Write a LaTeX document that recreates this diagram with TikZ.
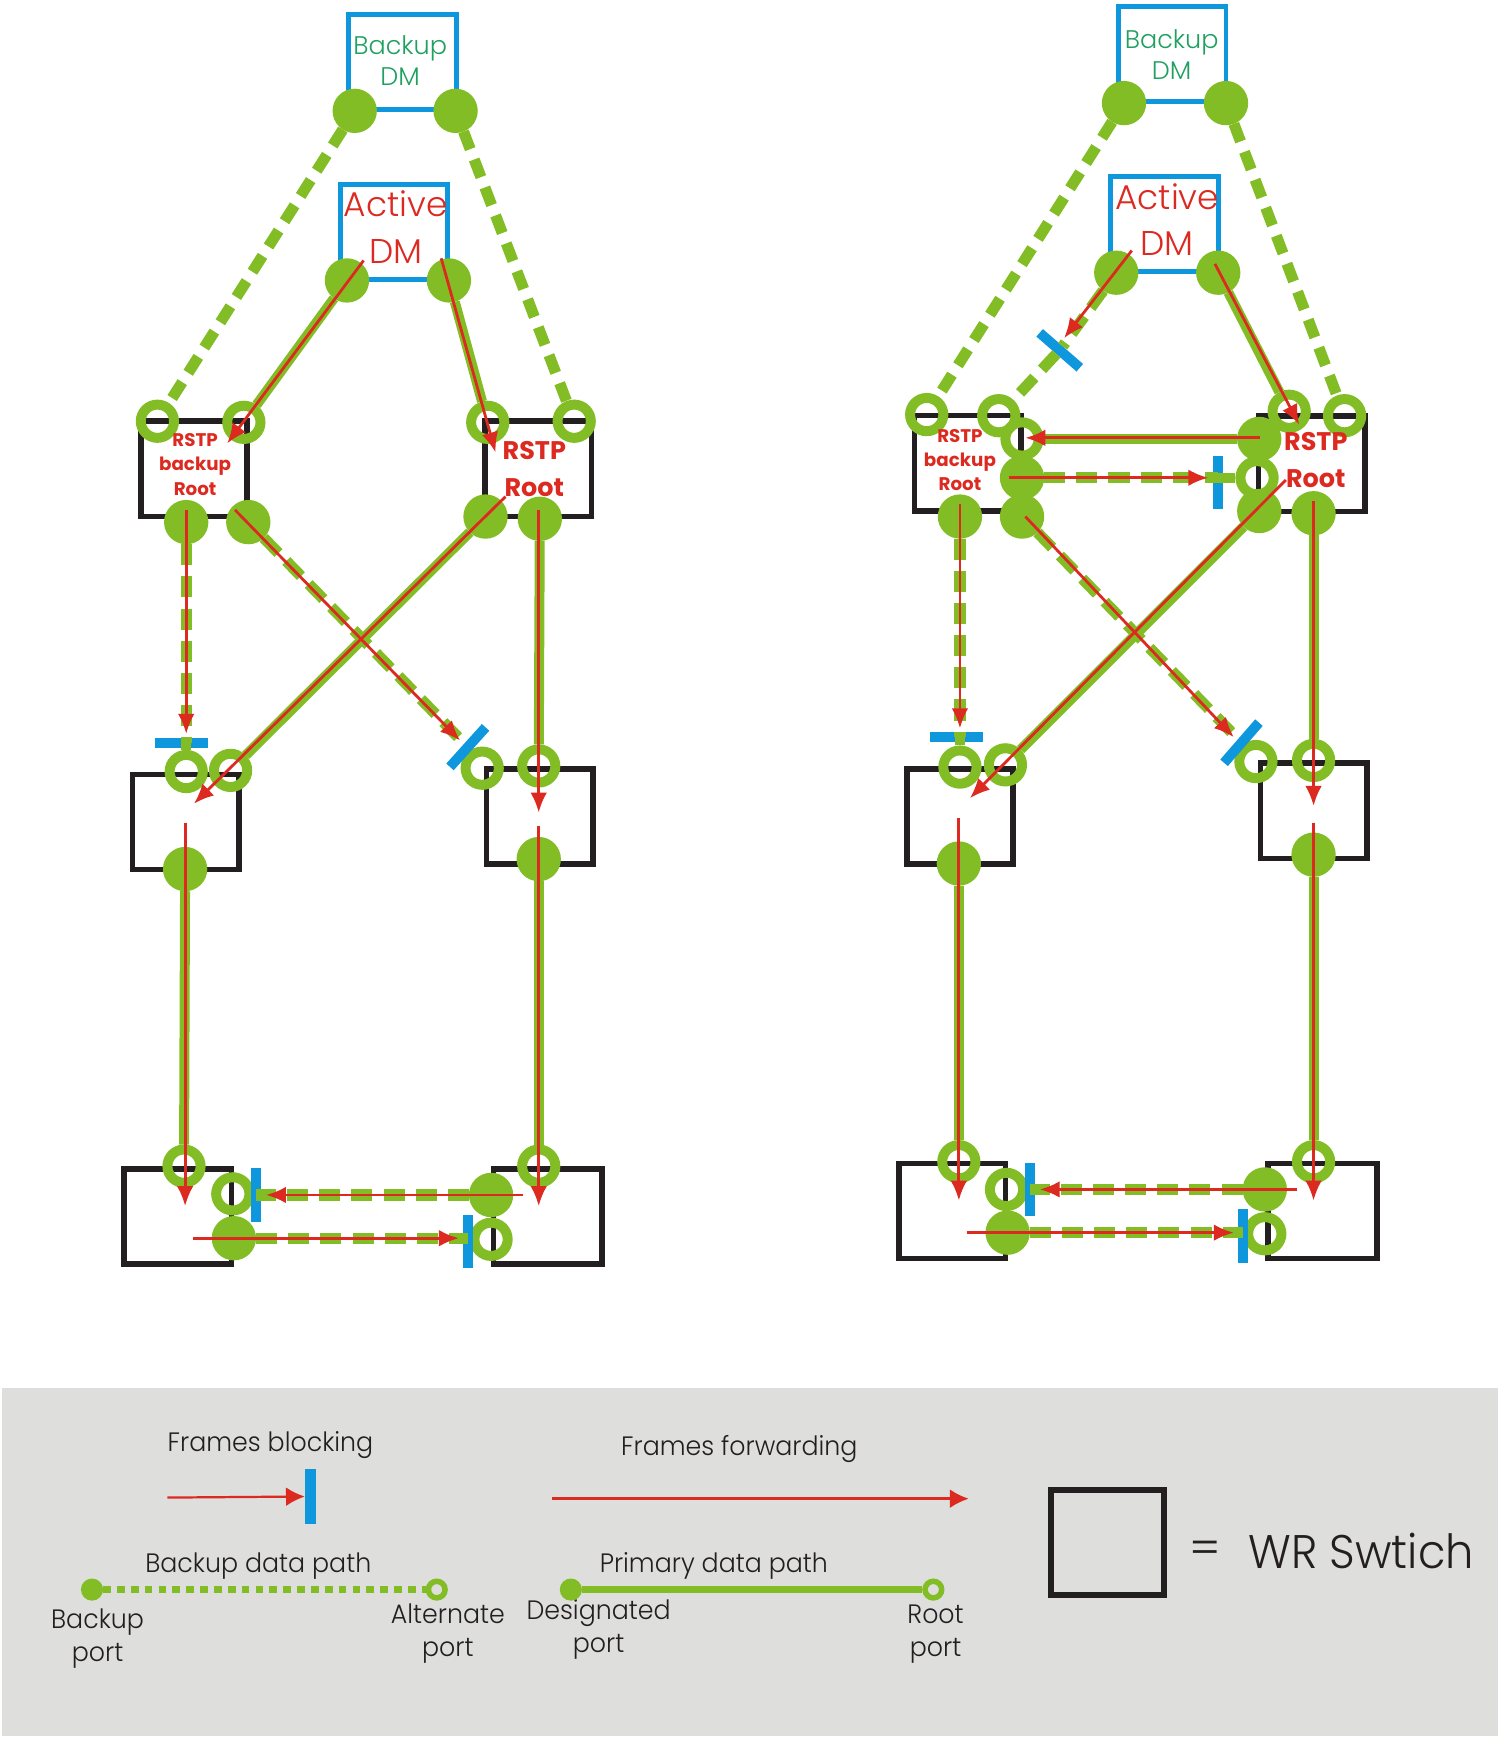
\documentclass[tikz,border=0pt]{standalone}
\usepackage{fontspec}
\setmainfont{Poppins}[Ligatures=TeX]
\newfontfamily\lightfont{Poppins Light}
\newfontfamily\condfont[FakeStretch=0.95]{Poppins Light}
\usetikzlibrary{arrows.meta}
\definecolor{wgreen}{HTML}{83BD26}
\definecolor{wblue}{HTML}{0E97DC}
\definecolor{wred}{HTML}{DC2A20}
\definecolor{wblack}{HTML}{231F20}
\definecolor{wtext}{HTML}{1FA060}
\definecolor{wgray}{HTML}{DEDEDD}
\tikzset{
  swbox/.style={draw=wblack,line width=5pt,minimum width=96pt,minimum height=86pt,outer sep=0pt,inner sep=0pt},
  dmbox/.style={draw=wblue,line width=4.5pt,fill=white,minimum width=97pt,minimum height=86pt,outer sep=0pt,inner sep=0pt},
  ring/.style={circle,draw=wgreen,line width=9pt,minimum size=30pt,inner sep=0pt},
  full/.style={circle,fill=wgreen,minimum size=40pt,inner sep=0pt,outer sep=0pt},
  barh/.style={rectangle,fill=wblue,minimum width=48pt,minimum height=9pt,inner sep=0pt,outer sep=0pt},
  solidlink/.style={draw=wgreen,line width=9pt},
  dashlink/.style={draw=wgreen,line width=10pt,dash pattern=on 17pt off 10pt},
  dashred/.style={draw=wgreen,line width=10pt,dash pattern=on 19pt off 10pt},
  redarrow/.style={draw=wred,line width=2.5pt,-{Latex[length=18pt,width=15pt]}},
  bkuptext/.style={text=wtext,font=\lightfont\fontsize{23}{28}\selectfont,align=center},
  acttext/.style={text=wred,font=\lightfont\fontsize{31}{42}\selectfont,align=center},
  rbtext/.style={text=wred,font=\bfseries\fontsize{16.5}{22}\selectfont,align=center},
  rrtext/.style={text=wred,font=\bfseries\fontsize{23}{33}\selectfont,align=center},
  legtext/.style={text=wblack,font=\condfont\fontsize{24}{30}\selectfont,align=center},
}
\newcommand{\redarr}[3]{\coordinate (#1s) at (#2);\coordinate (#1e) at (#3);\draw[redarrow] (#1s) -- (#1e);}
\begin{document}
\begin{tikzpicture}[x=1pt,y=-1pt]
\useasboundingbox (0,0) rectangle (1351,1567);
% ---------- LEFT ----------
\node[swbox] (Lsa) at (175,423) {};
\node[swbox] (Lsb) at (485.5,423) {};
\node[swbox] (Lsc) at (167.5,741.5) {};
\node[swbox] (Lsd) at (487,736.5) {};
\node[swbox,minimum width=97pt] (Lse) at (160.5,1097.5) {};
\node[swbox,minimum width=98pt] (Lsf) at (494,1097.5) {};
\node[dmbox] (Lbk) at (363,56) {};
\node[dmbox] (Lac) at (355.5,209.5) {};
\node[full] (Lb1) at (320,100) {};
\node[full] (Lb2) at (411,100) {};
\node[full] (La1) at (313,253) {};
\node[full] (La2) at (405,253) {};
\node[ring] (Lr1) at (142,380) {};
\node[ring] (Lr2) at (220,381) {};
\node[ring] (Lr3) at (440,381) {};
\node[ring] (Lr4) at (518,380) {};
\node[full] (Lf1) at (168,471) {};
\node[full] (Lf2) at (224,471) {};
\node[full] (Lf3) at (438,466) {};
\node[full] (Lf4) at (487,468) {};
\node[ring] (Lr5) at (168,696) {};
\node[ring] (Lr6) at (208,695) {};
\node[ring] (Lr7) at (435,693) {};
\node[ring] (Lr8) at (486,691) {};
\node[full] (Lf5) at (167,784) {};
\node[full] (Lf6) at (486,775) {};
\node[ring] (Lr9) at (166,1052) {};
\node[ring] (Lr10) at (486,1052) {};
\node[ring] (Lr11) at (210,1077) {};
\node[ring] (Lr12) at (443,1118) {};
\node[full] (Lf7) at (443,1078) {};
\node[full] (Lf8) at (211,1117) {};
\node[barh] (Lbar1) at (164,670) {};
\node[barh,rotate=48] (Lbar2) at (422,674) {};
\node[barh,rotate=90] (Lbar3) at (231,1078) {};
\node[barh,rotate=90] (Lbar4) at (422,1120) {};
\draw[dashlink] (Lb1) -- (Lr1);
\draw[dashlink] (Lb2) -- (Lr4);
\draw[solidlink] (La1) -- (Lr2);
\draw[solidlink] (La2) -- (Lr3);
\draw[dashred] (Lf1) -- (Lf1 |- Lbar1);
\draw[solidlink] (Lr5 |- Lbar1) -- (Lr5);
\draw[dashred] (Lf2) -- (Lbar2);
\draw[solidlink] (Lf3) -- (Lr6);
\draw[solidlink] (Lf4) -- (Lr8);
\draw[solidlink] (Lf5) -- (Lr9);
\draw[solidlink] (Lf6) -- (Lr10);
\draw[dashred] (Lf7) -- (Lf7 -| Lbar3);
\draw[dashred] (Lf8) -- (Lf8 -| Lbar4);
\node[bkuptext] (Ltb) at (361,55) {Backup\\DM};
\node[acttext] (Lta) at (357,205) {Active\\DM};
\node[rbtext] (Ltr) at (176,419) {RSTP\\backup\\Root};
\node[rrtext] (Ltq) at (482,423) {RSTP\\Root};
\redarr{La}{328,235}{205,400}
\redarr{Lb}{398,233}{447,408}
\redarr{Lc}{168,460}{168,662}
\redarr{Ld}{212,460}{415,668}
\redarr{Le}{456,448}{175,725}
\redarr{Lf}{486,460}{486,733}
\redarr{Lg}{167,742}{167,1088}
\redarr{Lh}{486,745}{486,1088}
\redarr{Li}{472,1078}{240,1078}
\redarr{Lj}{174,1117}{414,1117}
% ---------- RIGHT ----------
\node[swbox] (Rsa) at (873,418) {};
\node[swbox] (Rsb) at (1183.5,418.5) {};
\node[swbox] (Rsc) at (866,736.5) {};
\node[swbox] (Rsd) at (1185,731.5) {};
\node[swbox] (Rse) at (859,1092.5) {};
\node[swbox,minimum width=98pt] (Rsf) at (1193,1092.5) {};
\node[dmbox] (Rbk) at (1057.5,49) {};
\node[dmbox] (Rac) at (1050.5,202) {};
\node[full] (Rb1) at (1014,93) {};
\node[full] (Rb2) at (1106,93) {};
\node[full] (Ra1) at (1007,246) {};
\node[full] (Ra2) at (1099,246) {};
\node[ring] (Rr1) at (836,374) {};
\node[ring] (Rr2) at (901,375) {};
\node[ring] (Rr3) at (922,396) {};
\node[ring] (Rr4) at (1163,371) {};
\node[ring] (Rr5) at (1213,375) {};
\node[ring] (Rr6) at (1134,431) {};
\node[full] (Rf1) at (866,466) {};
\node[full] (Rf2) at (922,466) {};
\node[full] (Rf3) at (922,431) {};
\node[full] (Rf4) at (1136,396) {};
\node[full] (Rf5) at (1136,461) {};
\node[full] (Rf6) at (1185,463) {};
\node[ring] (Rr7) at (866,692) {};
\node[ring] (Rr8) at (907,690) {};
\node[ring] (Rr9) at (1133,687) {};
\node[ring] (Rr10) at (1185,686) {};
\node[full] (Rf7) at (865,779) {};
\node[full] (Rf8) at (1185,771) {};
\node[ring] (Rr11) at (865,1048) {};
\node[ring] (Rr12) at (1185,1048) {};
\node[ring] (Rr13) at (908,1073) {};
\node[ring] (Rr14) at (1141,1113) {};
\node[full] (Rf9) at (1141,1073) {};
\node[full] (Rf10) at (909,1112) {};
\node[barh,rotate=-41] (Rbar0) at (956,316) {};
\node[barh,rotate=90] (Rbar1) at (1099,435) {};
\node[barh] (Rbar2) at (863,665) {};
\node[barh,rotate=49] (Rbar3) at (1120,670) {};
\node[barh,rotate=90] (Rbar4) at (929,1073) {};
\node[barh,rotate=90] (Rbar5) at (1121,1115) {};
\draw[dashlink] (Rb1) -- (Rr1);
\draw[dashlink] (Rb2) -- (Rr5);
\draw[dashred] (Ra1) -- (Rbar0);
\draw[dashred] (Rbar0) -- (Rr2);
\draw[solidlink] (Ra2) -- (Rr4);
\draw[solidlink] (Rf4) -- (Rr3);
\draw[dashred] (Rf3) -- (Rf3 -| Rbar1);
\draw[solidlink] (Rr6 -| Rbar1) -- (Rr6);
\draw[dashred] (Rf1) -- (Rf1 |- Rbar2);
\draw[solidlink] (Rr7 |- Rbar2) -- (Rr7);
\draw[dashred] (Rf2) -- (Rbar3);
\draw[solidlink] (Rf5) -- (Rr8);
\draw[solidlink] (Rf6) -- (Rr10);
\draw[solidlink] (Rf7) -- (Rr11);
\draw[solidlink] (Rf8) -- (Rr12);
\draw[dashred] (Rf9) -- (Rf9 -| Rbar4);
\draw[dashred] (Rf10) -- (Rf10 -| Rbar5);
\node[bkuptext] (Rtb) at (1057,49) {Backup\\DM};
\node[acttext] (Rta) at (1053,198) {Active\\DM};
\node[rbtext] (Rtr) at (866,415) {RSTP\\backup\\Root};
\node[rrtext] (Rtq) at (1187,415) {RSTP\\Root};
\redarr{Ra}{1021,226}{960,305}
\redarr{Rb}{1096,238}{1172,383}
\redarr{Rc}{1137,395}{925,395}
\redarr{Rd}{910,431}{1090,431}
\redarr{Re}{866,455}{866,657}
\redarr{Rf}{925,466}{1113,665}
\redarr{Rg}{1160,433}{875,720}
\redarr{Rh}{1185,452}{1185,727}
\redarr{Ri}{865,738}{865,1083}
\redarr{Rj}{1185,742}{1185,1083}
\redarr{Rk}{1170,1073}{938,1073}
\redarr{Rl}{872,1112}{1113,1112}
% ---------- LEGEND ----------
\node[fill=wgray,minimum width=1349pt,minimum height=314pt,inner sep=0pt,outer sep=0pt] (legbg) at (676.5,1409) {};
\node[legtext] (t1) at (244,1304) {Frames blocking};
\node[legtext] (t2) at (667,1307) {Frames forwarding};
\node[legtext] (t3) at (233,1413) {Backup data path};
\node[legtext] (t4) at (644,1413) {Primary data path};
\node[legtext] (t5) at (88,1478) {Backup\\port};
\node[legtext] (t6) at (404,1474) {Alternate\\port};
\node[legtext] (t7) at (540,1470) {Designated\\port};
\node[legtext] (t8) at (844,1474) {Root\\port};
\node[barh,rotate=90,minimum width=50pt,minimum height=10pt] (lgbar) at (280,1350) {};
\coordinate (lga) at (151,1351);
\draw[draw=wred,line width=2pt,-{Latex[length=17pt,width=17pt]}] (lga) -- (lgbar);
\coordinate (lgb) at (498,1352);
\coordinate (lgc) at (874,1352);
\draw[draw=wred,line width=2.5pt,-{Latex[length=17pt,width=17pt]}] (lgb) -- (lgc);
\node[full,minimum size=20pt] (lgd) at (83,1434) {};
\node[ring,line width=5pt,minimum size=15pt] (lge) at (394,1434) {};
\node[full,minimum size=20pt] (lgf) at (515,1434) {};
\node[ring,line width=5pt,minimum size=15pt] (lgg) at (842,1434) {};
\draw[draw=wgreen,line width=6pt,dash pattern=on 7pt off 5.5pt] (lgd) -- (lge);
\draw[draw=wgreen,line width=6pt] (lgf) -- (lgg);
\node[swbox,line width=5pt,minimum width=102pt,minimum height=95pt] (lgsw) at (999,1391.5) {};
\node[text=wblack,font=\lightfont\fontsize{42}{48}\selectfont] (lgeq) at (1087,1401) {=};
\node[text=wblack,font=\condfont\fontsize{42.5}{50}\selectfont] (lgwr) at (1228,1399) {WR Swtich};
\end{tikzpicture}
\end{document}
